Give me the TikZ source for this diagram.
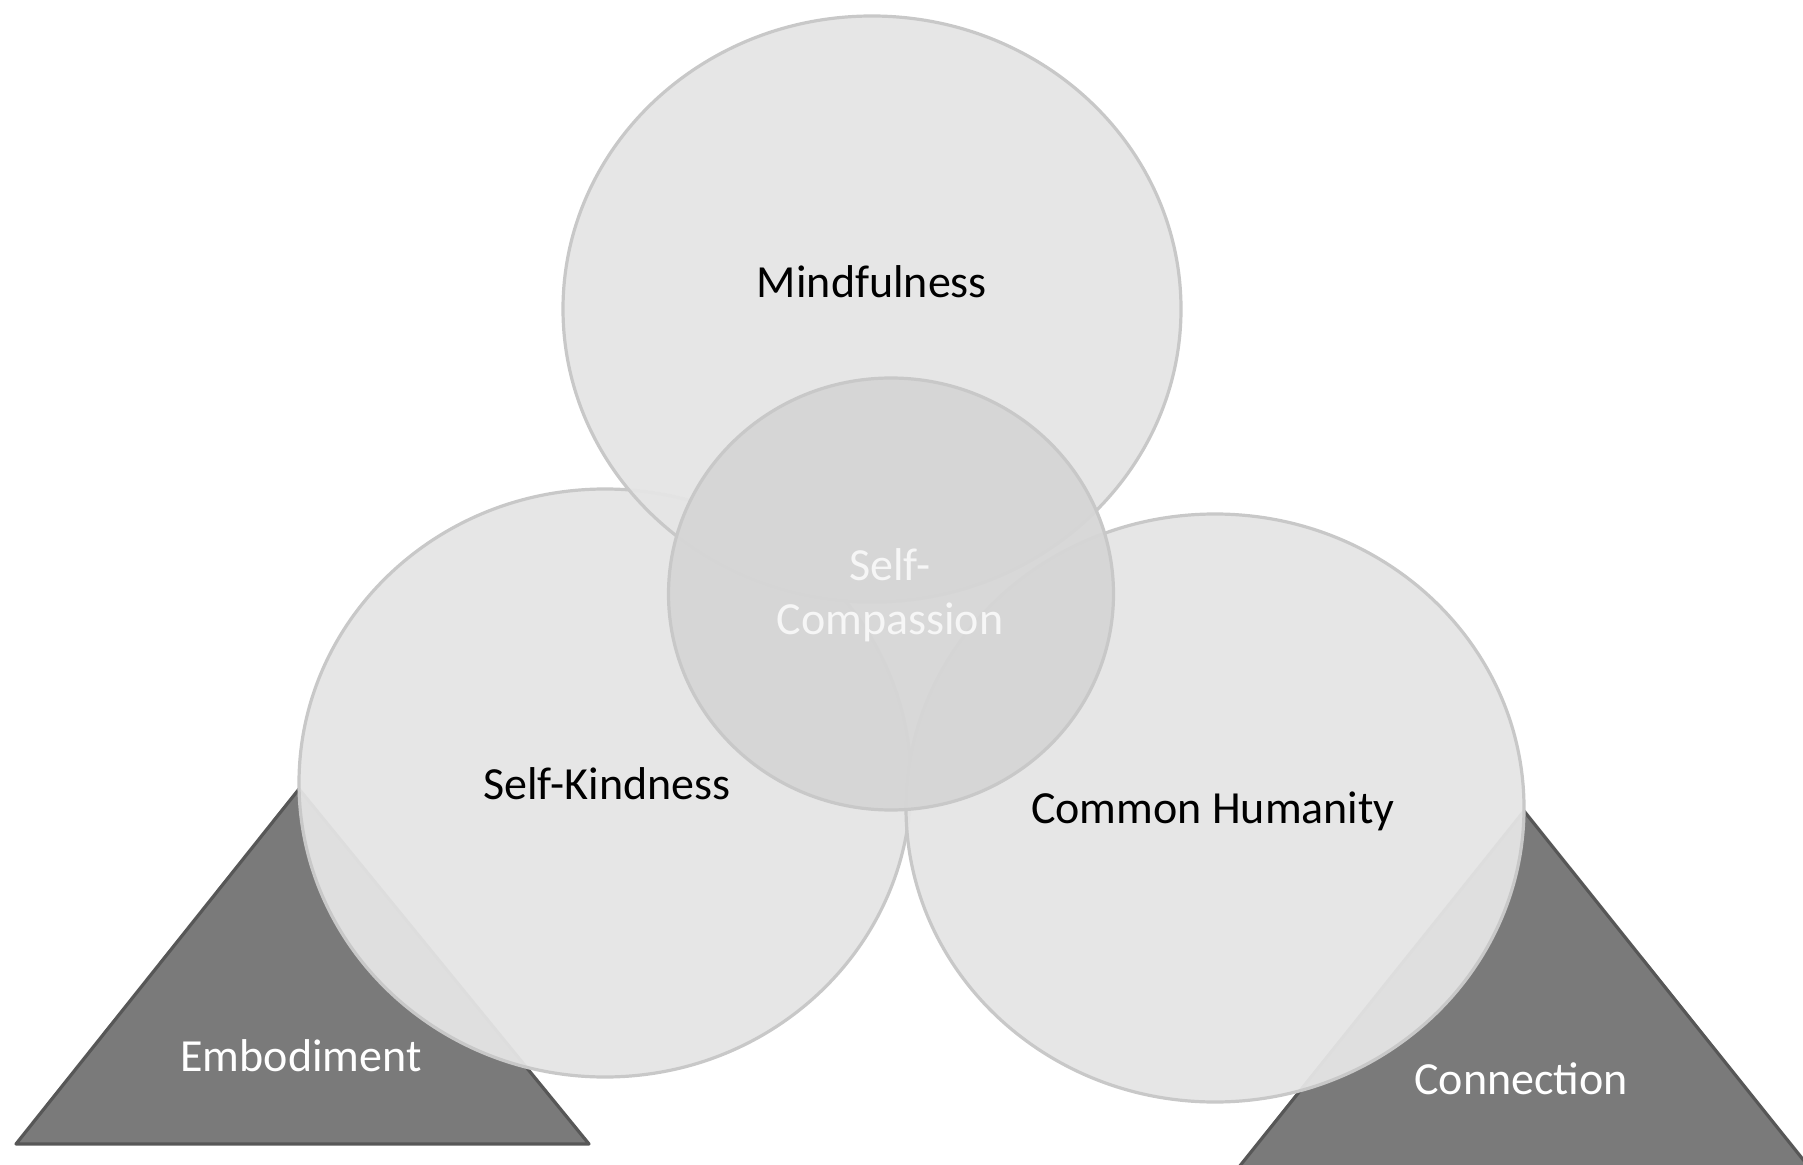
\documentclass[tikz,border=0pt]{standalone}
\usepackage{fontspec}
\setmainfont{Carlito}
\usetikzlibrary{shapes.geometric}
\definecolor{ringfill}{HTML}{E5E5E5}
\definecolor{ringline}{HTML}{C8C8C8}
\definecolor{corefill}{HTML}{D6D6D6}
\definecolor{basefill}{HTML}{7A7A7A}
\definecolor{baseline}{HTML}{575757}
\definecolor{coretext}{HTML}{F6F6F6}
\tikzset{
  ring/.style={ellipse, draw=ringline, line width=1.6pt, fill=ringfill,
    fill opacity=0.95, inner sep=0pt, outer sep=0pt},
  core/.style={ellipse, draw=ringline, line width=1.6pt, fill=corefill,
    fill opacity=0.95, inner sep=0pt, outer sep=0pt},
  base/.style={draw=baseline, fill=basefill, line width=1.6pt, line join=round},
  darktext/.style={font=\fontsize{23}{27}\selectfont, text=black, inner sep=0pt},
  lighttext/.style={font=\fontsize{23}{27}\selectfont, text=white, inner sep=0pt},
  coretxt/.style={font=\fontsize{23}{27}\selectfont, text=coretext, inner sep=0pt,
    align=center}
}
\begin{document}
\begin{tikzpicture}[x=0.5pt, y=-0.5pt]
\useasboundingbox (0,0) rectangle (1803,1165);
\begin{scope}
\clip (0,0) rectangle (1803,1165);
% base triangles
\coordinate (ea) at (299,789);
\coordinate (el) at (16,1144);
\coordinate (er) at (589,1144);
\draw[base] (ea) -- (el) -- (er) -- cycle;
\coordinate (ca) at (1524,811);
\coordinate (cl) at (1235,1172);
\coordinate (cr) at (1813,1172);
\draw[base] (ca) -- (cl) -- (cr) -- cycle;
% the three components
\node[ring, minimum width=306pt, minimum height=294pt] (kind) at (605,783) {};
\node[ring, minimum width=309pt, minimum height=294pt] (human) at (1215,808) {};
\node[ring, minimum width=309pt, minimum height=293pt] (mind) at (872,309) {};
% centre
\node[core, minimum width=222.5pt, minimum height=216pt] (self) at (891,594) {};
\end{scope}
% labels
\node[darktext] (mindlbl) at (872,282) {Mindfulness};
\node[darktext] (kindlbl) at (607,784) {Self-Kindness};
\node[darktext] (humanlbl) at (1213,811) {Common Humanity};
\node[coretxt] (selflbl) at (890,595) {Self-\\Compassion};
\node[lighttext] (embodlbl) at (301,1056) {Embodiment};
\node[lighttext] (connlbl) at (1521,1079) {Connection};
\end{tikzpicture}
\end{document}
